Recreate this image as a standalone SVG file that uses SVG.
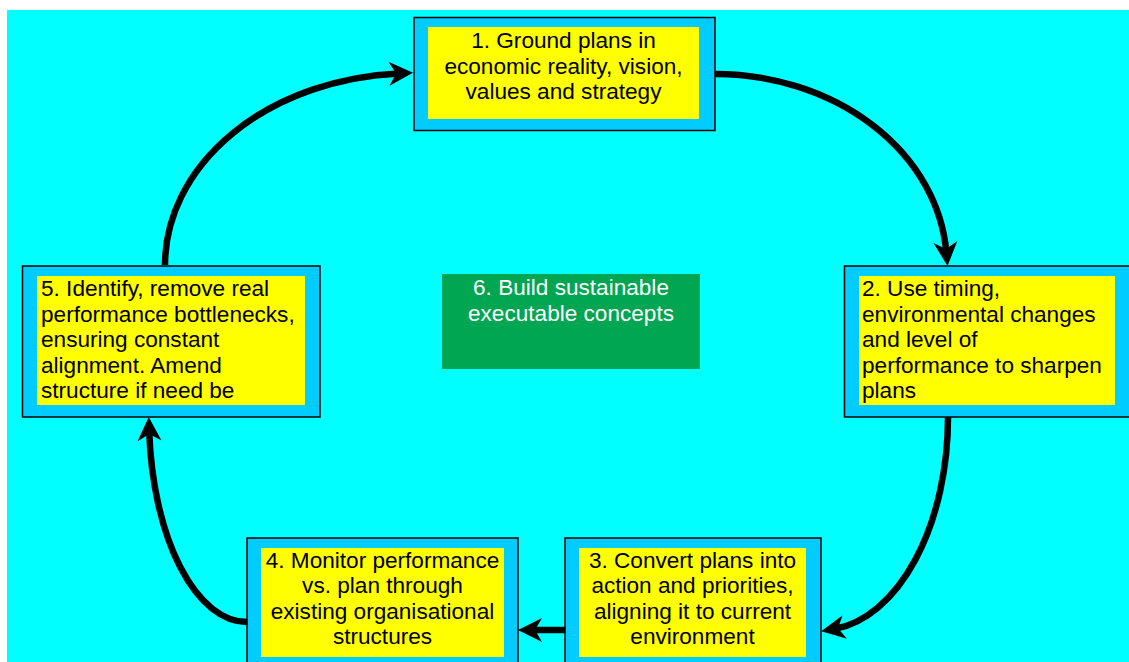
<svg xmlns="http://www.w3.org/2000/svg" width="1129" height="662" viewBox="0 0 1129 662">
<defs>
<style>
.frame{fill:#00CCFF;stroke:#000;stroke-width:1.5}
.inner{fill:#FFFF00}
.t{font-family:"Liberation Sans",Arial,sans-serif;font-size:22.6px;fill:#000}
.c{text-anchor:middle}
.w{fill:#FFFFFF}
.arc{fill:none;stroke:#000;stroke-width:6.5}
</style>
<marker id="ah" markerUnits="userSpaceOnUse" markerWidth="26" markerHeight="26" viewBox="0 -13 26 26" refX="10" refY="0" orient="auto">
<path d="M24,0 L0,-12 L7,0 L0,12 Z" fill="#000"/>
</marker>
</defs>
<rect x="0" y="0" width="1129" height="662" fill="#FFFFFF"/>
<rect x="7" y="10" width="1130" height="660" fill="#00FFFF"/>

<g id="connectors">
<path class="arc" d="M165,265 A248,192 0 0 1 399,73.4" marker-end="url(#ah)"/>
<path class="arc" d="M715,74 A232,192 0 0 1 946.3,252" marker-end="url(#ah)"/>
<path class="arc" d="M948,417 A127,213 0 0 1 835,628.8" marker-end="url(#ah)"/>
<path class="arc" d="M565,630 L532,630" marker-end="url(#ah)"/>
<path class="arc" d="M247,622 A98,205 0 0 1 149.2,431" marker-end="url(#ah)"/>
</g>

<g id="node1">
<rect class="frame" x="414" y="17.5" width="301" height="113"/>
<rect class="inner" x="428" y="27" width="271" height="92"/>
<text class="t c" x="563.5" y="48">1. Ground plans in</text>
<text class="t c" x="563.5" y="73.5">economic reality, vision,</text>
<text class="t c" x="563.5" y="99">values and strategy</text>
</g>

<g id="node2">
<rect class="frame" x="844.5" y="266" width="290" height="151"/>
<rect class="inner" x="859" y="276" width="256" height="129"/>
<text class="t" x="862" y="296">2. Use timing,</text>
<text class="t" x="862" y="321.6">environmental changes</text>
<text class="t" x="862" y="347.2">and level of</text>
<text class="t" x="862" y="372.8">performance to sharpen</text>
<text class="t" x="862" y="398.4">plans</text>
</g>

<g id="node3">
<rect class="frame" x="565" y="538" width="256" height="135"/>
<rect class="inner" x="579" y="548" width="227" height="109"/>
<text class="t c" x="692.5" y="567.5">3. Convert plans into</text>
<text class="t c" x="692.5" y="593">action and priorities,</text>
<text class="t c" x="692.5" y="618.5">aligning it to current</text>
<text class="t c" x="692.5" y="644">environment</text>
</g>

<g id="node4">
<rect class="frame" x="247" y="538" width="271" height="135"/>
<rect class="inner" x="261" y="548" width="243" height="109"/>
<text class="t c" x="382.5" y="567.5">4. Monitor performance</text>
<text class="t c" x="382.5" y="593">vs. plan through</text>
<text class="t c" x="382.5" y="618.5">existing organisational</text>
<text class="t c" x="382.5" y="644">structures</text>
</g>

<g id="node5">
<rect class="frame" x="22.5" y="266" width="297.5" height="151"/>
<rect class="inner" x="37" y="276" width="268" height="129"/>
<text class="t" x="41" y="296">5. Identify, remove real</text>
<text class="t" x="41" y="321.6">performance bottlenecks,</text>
<text class="t" x="41" y="347.2">ensuring constant</text>
<text class="t" x="41" y="372.8">alignment. Amend</text>
<text class="t" x="41" y="398.4">structure if need be</text>
</g>

<g id="node6">
<rect x="442" y="274" width="258" height="95" fill="#00A651"/>
<text class="t c w" x="571" y="294.5">6. Build sustainable</text>
<text class="t c w" x="571" y="320.5">executable concepts</text>
</g>
</svg>
